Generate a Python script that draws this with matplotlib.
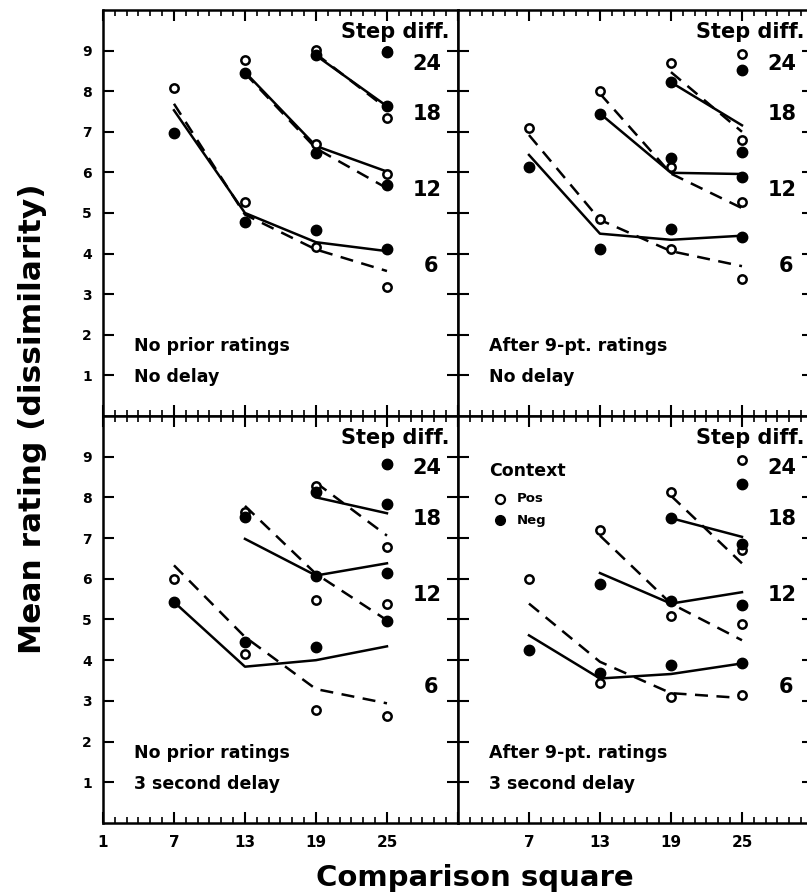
import matplotlib.pyplot as plt
from matplotlib.ticker import MultipleLocator

plt.rcParams['font.family'] = ['DejaVu Sans']
plt.rcParams['font.weight'] = 'bold'

# comparison squares and step differences
x_comp = [7, 13, 19, 25]
steps = ['6', '12', '18', '24']

# each list: one entry per step diff (6, 12, 18, 24); values per comparison square
# top-left: no prior ratings, no delay
tl_pos = [[8.08, 5.28, 4.16, 3.18], [8.78, 6.71, 5.96], [9.02, 7.33], [9.0]]
tl_neg = [[6.97, 4.77, 4.59, 4.12], [8.44, 6.48, 5.69], [8.88, 7.63], [8.96]]
tl_pos_fit = [[7.69, 4.96, 4.10, 3.57], [8.44, 6.59, 5.61], [8.92, 7.57]]
tl_neg_fit = [[7.53, 5.00, 4.28, 4.06], [8.47, 6.65, 6.02], [8.88, 7.63]]

# top-right: after 9-pt ratings, no delay
tr_pos = [[7.10, 4.85, 4.12, 3.38], [8.00, 6.14, 5.26], [8.70, 6.79], [8.92]]
tr_neg = [[6.14, 4.12, 4.60, 4.42], [7.45, 6.35, 5.88], [8.22, 6.51], [8.51]]
tr_pos_fit = [[6.92, 4.83, 4.06, 3.69], [7.94, 5.97, 5.12], [8.47, 7.00]]
tr_neg_fit = [[6.43, 4.49, 4.34, 4.44], [7.45, 5.99, 5.96], [8.22, 7.16]]

# bottom-left: no prior ratings, 3 second delay
bl_pos = [[6.00, 4.15, 2.78, 2.62], [7.65, 5.47, 5.37], [8.28, 6.78], [8.81]]
bl_neg = [[5.43, 4.45, 4.33, 4.97], [7.52, 6.08, 6.15], [8.14, 7.83], [8.81]]
bl_pos_fit = [[6.33, 4.57, 3.29, 2.94], [7.79, 6.12, 4.98], [8.36, 7.06]]
bl_neg_fit = [[5.43, 3.84, 4.00, 4.34], [6.98, 6.08, 6.38], [8.00, 7.61]]

# bottom-right: after 9-pt ratings, 3 second delay
br_pos = [[6.00, 3.45, 3.09, 3.15], [7.20, 5.08, 4.88], [8.14, 6.70], [8.91]]
br_neg = [[4.26, 3.69, 3.88, 3.92], [5.88, 5.45, 5.35], [7.49, 6.85], [8.34]]
br_pos_fit = [[5.39, 3.96, 3.19, 3.07], [7.06, 5.39, 4.49], [8.04, 6.38]]
br_neg_fit = [[4.61, 3.55, 3.66, 3.92], [6.14, 5.39, 5.67], [7.49, 7.03]]

notes = [['No prior ratings', 'No delay'],
         ['After 9-pt. ratings', 'No delay'],
         ['No prior ratings', '3 second delay'],
         ['After 9-pt. ratings', '3 second delay']]

panels = [(tl_pos, tl_neg, tl_pos_fit, tl_neg_fit),
          (tr_pos, tr_neg, tr_pos_fit, tr_neg_fit),
          (bl_pos, bl_neg, bl_pos_fit, bl_neg_fit),
          (br_pos, br_neg, br_pos_fit, br_neg_fit)]

fig = plt.figure(figsize=(8.07, 8.93), dpi=100)
W, L, R = 0.4399, 0.1276, 0.5675
rects = [[L, 0.5342, W, 0.4546], [R, 0.5342, W, 0.4546],
         [L, 0.0784, W, 0.4558], [R, 0.0784, W, 0.4558]]
lab_y = [[8.68, 7.45, 5.57, 3.70], [8.68, 7.45, 5.57, 3.70],
         [8.73, 7.47, 5.59, 3.35], [8.73, 7.47, 5.59, 3.35]]

for k, (pos, neg, pfit, nfit) in enumerate(panels):
    ax = fig.add_axes(rects[k])
    ax.set_xlim(1, 31)
    ax.set_ylim(0, 10)
    for s in ax.spines.values():
        s.set_linewidth(1.8)

    for i in range(4):
        xs = x_comp[i:]
        if i < 3:
            ax.plot(xs, pfit[i], color='k', lw=1.8, dashes=(5.2, 3.4), zorder=2)
            ax.plot(xs, nfit[i], color='k', lw=1.8, zorder=2)
        ax.plot(xs, pos[i], 'o', ms=6, mfc='white', mec='k', mew=1.8, zorder=3,
                clip_on=False)
        ax.plot(xs, neg[i], 'o', ms=7.5, mfc='k', mec='k', zorder=4, clip_on=False)

    ax.text(25.7, 9.45, 'Step diff.', ha='center', va='center', fontsize=15,
            fontweight='bold')
    for j, s in enumerate(steps[::-1]):
        ax.text(28.4 if len(s) > 1 else 28.7, lab_y[k][j], s, ha='center',
                va='center', fontsize=15, fontweight='bold')
    ax.text(3.6, 1.72, notes[k][0], fontsize=12.5, fontweight='bold', va='center')
    ax.text(3.6, 0.95, notes[k][1], fontsize=12.5, fontweight='bold', va='center')

    ax.set_xticks([1, 7, 13, 19, 25, 31])
    ax.xaxis.set_minor_locator(MultipleLocator(1))
    ax.set_yticks(range(1, 10))
    ax.tick_params(which='major', direction='in', length=8, width=1.5,
                   top=True, right=True, pad=9)
    ax.tick_params(axis='x', labelsize=11)
    ax.tick_params(axis='y', labelsize=10, pad=8)
    ax.tick_params(which='minor', direction='in', length=4, width=1.2,
                   top=True, right=True)
    ax.tick_params(axis='y', which='minor', left=False, right=False)

    if k in (0, 2):
        ax.set_yticklabels([str(v) for v in range(1, 10)])
    else:
        ax.set_yticklabels([])
    if k == 2:
        ax.set_xticklabels(['1', '7', '13', '19', '25', ''])
    elif k == 3:
        ax.set_xticklabels(['', '7', '13', '19', '25', ''])
    else:
        ax.set_xticklabels([])

    if k == 3:
        ax.text(3.6, 8.65, 'Context', fontsize=12.5, fontweight='bold', va='center')
        ax.plot([4.55], [7.96], 'o', ms=6.5, mfc='white', mec='k', mew=1.6)
        ax.plot([4.55], [7.44], 'o', ms=7, mfc='k', mec='k')
        ax.text(6.0, 7.96, 'Pos', fontsize=9.5, fontweight='bold', va='center')
        ax.text(6.0, 7.44, 'Neg', fontsize=9.5, fontweight='bold', va='center')

fig.text(0.040, 0.531, 'Mean rating (dissimilarity)', rotation=90, ha='center',
         va='center', fontsize=22.5, fontweight='bold')
fig.text(0.5886, 0.008, 'Comparison square', ha='center', va='baseline',
         fontsize=21, fontweight='bold')

fig.savefig('out.png', dpi=100)
